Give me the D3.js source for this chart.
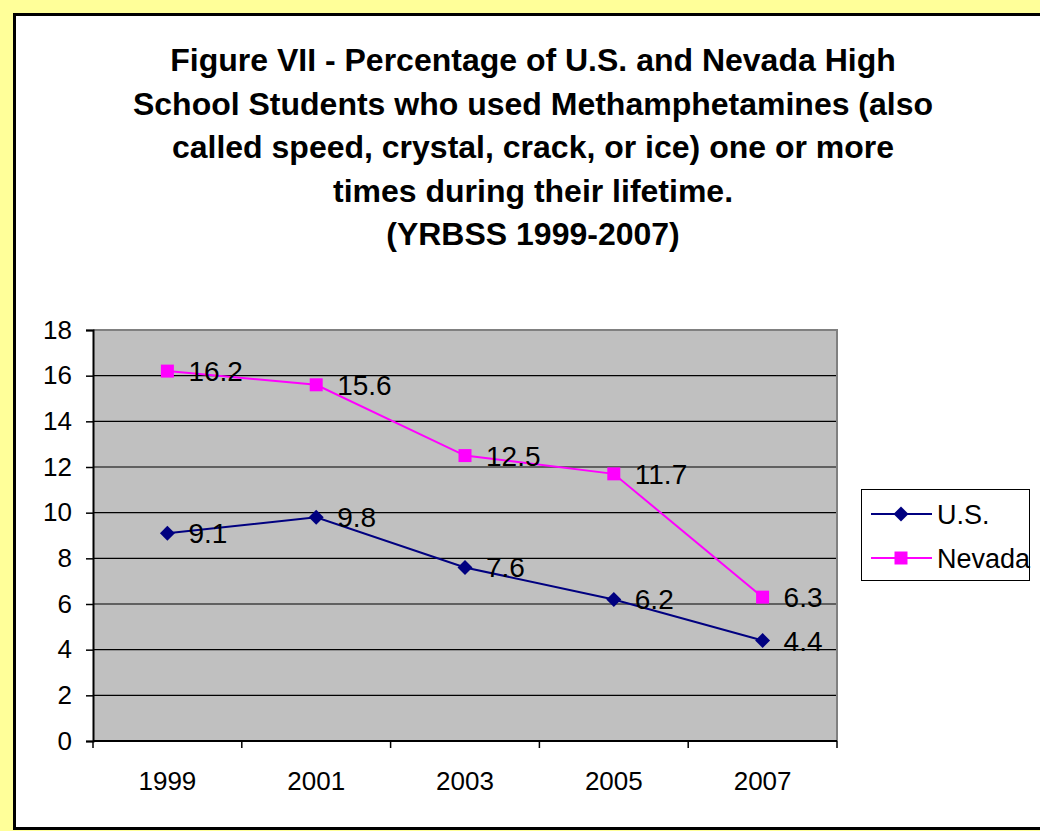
<!DOCTYPE html>
<html>
<head>
<meta charset="utf-8">
<script src="https://cdn.jsdelivr.net/npm/d3@7"></script>
<style>
  body { margin: 0; background: #FFFF99; }
  svg { display: block; font-family: "Liberation Sans", Arial, sans-serif; }
</style>
</head>
<body>
<div id="chart"></div>
<script>
var years = ["1999", "2001", "2003", "2005", "2007"];
var usValues = [9.1, 9.8, 7.6, 6.2, 4.4];
var nevadaValues = [16.2, 15.6, 12.5, 11.7, 6.3];
var yTicks = [0, 2, 4, 6, 8, 10, 12, 14, 16, 18];
var titleLines = [
  "Figure VII - Percentage of U.S. and Nevada High",
  "School Students who used Methamphetamines (also",
  "called speed, crystal, crack, or ice) one or more",
  "times during their lifetime.",
  "(YRBSS 1999-2007)"
];

var w = 1040, h = 831;
var plot = { left: 93, right: 837, top: 330, bottom: 741 };
var font = "Liberation Sans, Arial, sans-serif";

var svg = d3.select("#chart").append("svg")
  .attr("width", w).attr("height", h);

// yellow page + white chart area
svg.append("rect").attr("width", w).attr("height", h).attr("fill", "#FFFF99");
svg.append("rect")
  .attr("x", 14.5).attr("y", 14.5)
  .attr("width", w + 10).attr("height", 814)
  .attr("fill", "white").attr("stroke", "black").attr("stroke-width", 3);

// title
svg.append("g").selectAll("text")
  .data(titleLines).enter().append("text")
  .attr("x", 533)
  .attr("y", function(d, i) { return 71 + i * 43.5; })
  .attr("text-anchor", "middle")
  .attr("font-size", 32).attr("font-weight", "bold")
  .text(function(d) { return d; });

var xScale = d3.scaleBand().domain(years).range([plot.left, plot.right]);
var yScale = d3.scaleLinear().domain([0, 18]).range([plot.bottom, plot.top]);

// plot background
svg.append("rect")
  .attr("x", plot.left).attr("y", plot.top)
  .attr("width", plot.right - plot.left).attr("height", plot.bottom - plot.top)
  .attr("fill", "#C0C0C0");

// gridlines
svg.append("g").selectAll("line")
  .data(yTicks.filter(function(t) { return t > 0 && t < 18; }))
  .enter().append("line")
  .attr("x1", plot.left).attr("x2", plot.right)
  .attr("y1", function(d) { return yScale(d); })
  .attr("y2", function(d) { return yScale(d); })
  .attr("stroke", "#000").attr("stroke-width", 1.2);

// top and right border (grey)
svg.append("path")
  .attr("d", "M" + plot.left + "," + plot.top + "H" + plot.right + "V" + plot.bottom)
  .attr("fill", "none").attr("stroke", "#808080").attr("stroke-width", 2);

// y axis
var yAxis = d3.axisLeft(yScale).tickValues(yTicks).tickSize(7).tickPadding(14);
var gy = svg.append("g")
  .attr("transform", "translate(" + plot.left + ",0)")
  .call(yAxis)
  .attr("font-size", 26).attr("font-family", font);
gy.select(".domain").attr("stroke", "#000").attr("stroke-width", 2);
gy.selectAll(".tick line").attr("stroke", "#000").attr("stroke-width", 1.5);
gy.selectAll("text").attr("fill", "#000");

// x axis: ticks at category boundaries
var bounds = years.map(function(y) { return xScale(y); }).concat([plot.right]);
svg.append("line")
  .attr("x1", plot.left).attr("x2", plot.right)
  .attr("y1", plot.bottom).attr("y2", plot.bottom)
  .attr("stroke", "#000").attr("stroke-width", 2);
svg.append("g").selectAll("line")
  .data(bounds).enter().append("line")
  .attr("x1", function(d) { return d; }).attr("x2", function(d) { return d; })
  .attr("y1", plot.bottom).attr("y2", plot.bottom + 7)
  .attr("stroke", "#000").attr("stroke-width", 1.5);
svg.append("g").selectAll("text")
  .data(years).enter().append("text")
  .attr("x", function(d) { return xScale(d) + xScale.bandwidth() / 2; })
  .attr("y", 790)
  .attr("text-anchor", "middle")
  .attr("font-size", 26)
  .text(function(d) { return d; });

var cx = function(d, i) { return xScale(years[i]) + xScale.bandwidth() / 2; };
var line = d3.line()
  .x(function(d, i) { return cx(d, i); })
  .y(function(d) { return yScale(d); });

var series = [
  { name: "U.S.", values: usValues, color: "#000080", size: 112, rotate: 45 },
  { name: "Nevada", values: nevadaValues, color: "#FF00FF", size: 169, rotate: 0 }
];
var marker = function(s) { return d3.symbol().type(d3.symbolSquare).size(s.size)(); };

series.forEach(function(s) {
  svg.append("path")
    .datum(s.values)
    .attr("d", line)
    .attr("fill", "none").attr("stroke", s.color).attr("stroke-width", 2);
  svg.append("g").selectAll("path")
    .data(s.values).enter().append("path")
    .attr("d", marker(s))
    .attr("transform", function(d, i) {
      return "translate(" + cx(d, i) + "," + yScale(d) + ") rotate(" + s.rotate + ")";
    })
    .attr("fill", s.color);
  svg.append("g").selectAll("text")
    .data(s.values).enter().append("text")
    .attr("x", function(d, i) { return cx(d, i) + 21; })
    .attr("y", function(d) { return yScale(d) + 10; })
    .attr("font-size", 28)
    .text(function(d) { return d3.format(".1f")(d); });
});

// legend
var legend = svg.append("g").attr("transform", "translate(861,489)");
legend.append("rect")
  .attr("x", 0.5).attr("y", 0.5).attr("width", 168).attr("height", 91)
  .attr("fill", "white").attr("stroke", "#000").attr("stroke-width", 1);
series.forEach(function(s, i) {
  var yy = 25 + i * 44;
  legend.append("line")
    .attr("x1", 10).attr("x2", 71).attr("y1", yy).attr("y2", yy)
    .attr("stroke", s.color).attr("stroke-width", 2);
  legend.append("path")
    .attr("d", marker(s))
    .attr("transform", "translate(40," + yy + ") rotate(" + s.rotate + ")")
    .attr("fill", s.color);
  legend.append("text")
    .attr("x", 76).attr("y", yy + 10)
    .attr("font-size", 27)
    .text(s.name);
});
</script>
</body>
</html>
